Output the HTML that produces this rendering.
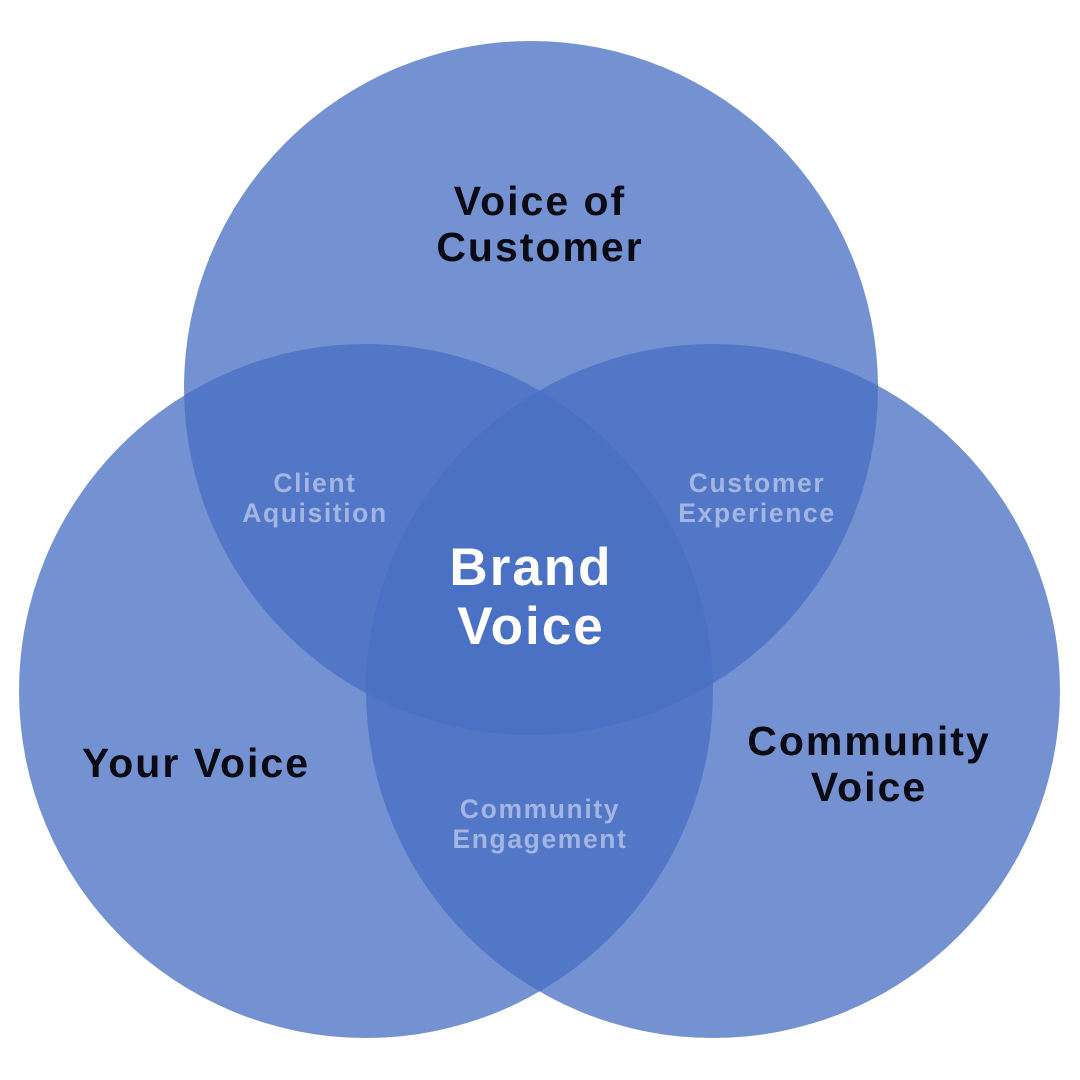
<!DOCTYPE html>
<html><head><meta charset="utf-8"><style>
html,body{margin:0;padding:0;background:#fff;}
svg{display:block;}
text{font-family:"Liberation Sans","DejaVu Sans",sans-serif;text-anchor:middle;}
.b{font-weight:bold;font-size:41px;fill:#0a0a14;letter-spacing:2px;}
.l{font-size:26.5px;fill:#a3b5e2;letter-spacing:1.6px;font-weight:bold;}
.w{font-weight:bold;font-size:53px;fill:#fff;letter-spacing:2px;}
</style></head><body>
<svg width="1080" height="1080" viewBox="0 0 1080 1080">
<g fill="rgb(71,111,194)" fill-opacity="0.755">
<circle cx="531" cy="388" r="347"/>
<circle cx="366" cy="691" r="347"/>
<circle cx="713" cy="691" r="347"/>
</g>
<text class="b" x="540" y="215">Voice of</text>
<text class="b" x="540" y="261">Customer</text>
<text class="b" x="196" y="777">Your Voice</text>
<text class="b" x="869" y="755">Community</text>
<text class="b" x="869" y="801">Voice</text>
<text class="l" x="315" y="492">Client</text>
<text class="l" x="315" y="522">Aquisition</text>
<text class="l" x="757" y="492">Customer</text>
<text class="l" x="757" y="522">Experience</text>
<text class="l" x="540" y="818">Community</text>
<text class="l" x="540" y="848">Engagement</text>
<text class="w" x="531" y="585">Brand</text>
<text class="w" x="531" y="644">Voice</text>
</svg>
</body></html>
